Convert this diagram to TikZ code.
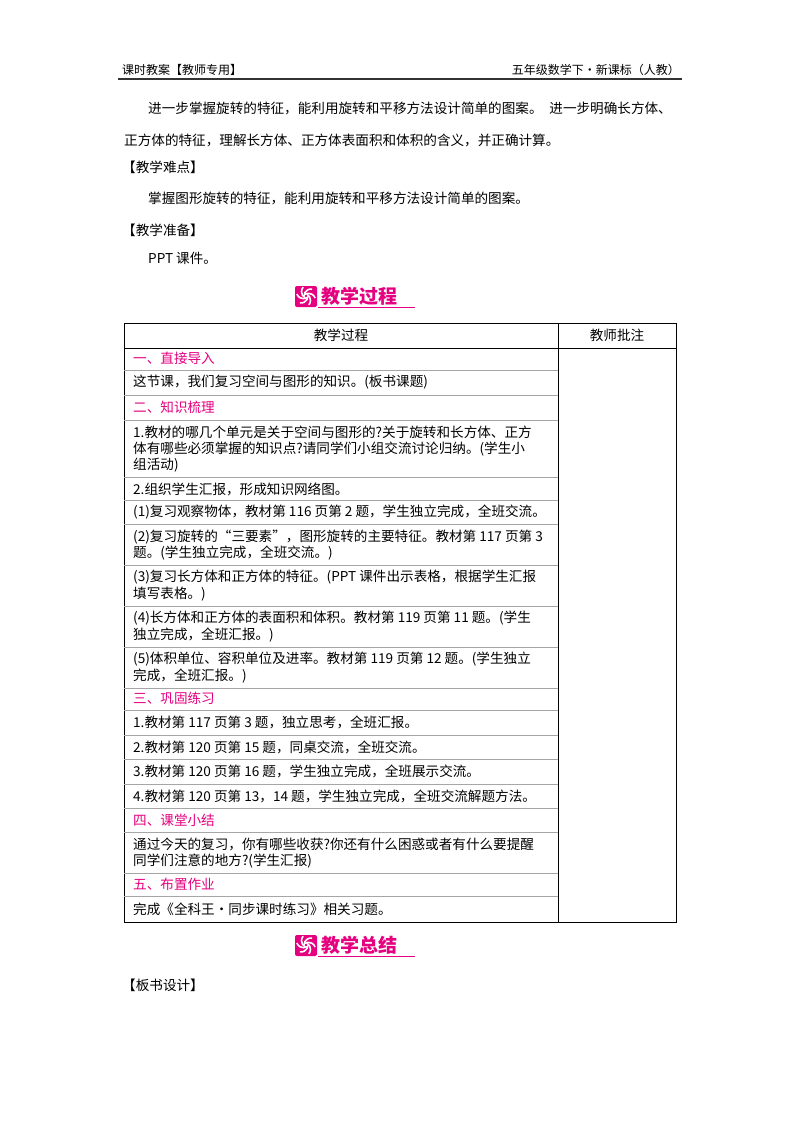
\documentclass[tikz,border=0pt]{standalone}
\usepackage{fontspec}
\usetikzlibrary{calc}
\setmainfont{Noto Sans CJK SC}
\definecolor{mag}{HTML}{E4007F}
\begin{document}
\begin{tikzpicture}[x=1pt,y=-1pt,
 t/.style={anchor=west,inner sep=0pt,font=\fontsize{13.6}{15}\selectfont},
 h/.style={t,text=mag},
 hd/.style={anchor=center,inner sep=0pt,font=\fontsize{13.6}{15}\selectfont},
 ban/.style={anchor=west,inner sep=0pt,text=mag,font=\fontsize{19}{20}\selectfont\bfseries},
 rl/.style={line width=0.5pt,gray!70}]
\useasboundingbox (0,0) rectangle (800,1132);
% header
\node[t,font=\fontsize{12}{12}\selectfont] (hl) at (122,70) {课时教案【教师专用】};
\node[anchor=east,inner sep=0pt,font=\fontsize{12}{12}\selectfont] (hr) at (680,70) {五年级数学下·新课标（人教）};
\draw[line width=1.2pt,black!80] (118,79) -- (682,79);
% intro text
\node[t] (p1) at (148,108) {进一步掌握旋转的特征，能利用旋转和平移方法设计简单的图案。\enspace 进一步明确长方体、};
\node[t] (p2) at (124,140) {正方体的特征，理解长方体、正方体表面积和体积的含义，并正确计算。};
\node[t] (p3) at (122,167) {【教学难点】};
\node[t] (p4) at (148,198) {掌握图形旋转的特征，能利用旋转和平移方法设计简单的图案。};
\node[t] (p5) at (122,230) {【教学准备】};
\node[t] (p6) at (148,258) {PPT 课件。};
% banners
\foreach \y/\txt/\n in {296/教学过程/b1,945/教学总结/b2}{
 \fill[mag,rounded corners=2pt] (295,\y-10) rectangle (317,\y+11);
 \foreach \a in {0,60,...,300}
  \draw[white,line width=1.6pt] ($(306,\y)+(\a:2)$) arc[start angle=\a,end angle=\a+100,radius=7];
 \node[ban] (\n) at (321,\y) {\txt};
 \draw[mag,line width=0.6pt] (318,\y+11) -- (415,\y+11);
}
% table
\draw[line width=0.8pt] (124,323) rectangle (676,922);
\draw[line width=0.8pt] (558,323) -- (558,922);
\draw[line width=0.6pt] (124,348) -- (676,348);
\node[hd] (th1) at (341,335) {教学过程};
\node[hd] (th2) at (617,335) {教师批注};
\foreach \y in {370,395,420,477,500,524,565,606,647,688,710,735,759,784,808,832,873,896}
 \draw[rl] (124,\y) -- (558,\y);
\node[h] at (133,358) {一、直接导入};
\node[t] at (133,382) {这节课，我们复习空间与图形的知识。(板书课题)};
\node[h] at (133,407) {二、知识梳理};
\node[t] at (133,432) {1.教材的哪几个单元是关于空间与图形的?关于旋转和长方体、正方};
\node[t] at (133,449) {体有哪些必须掌握的知识点?请同学们小组交流讨论归纳。(学生小};
\node[t] at (133,465) {组活动)};
\node[t] at (133,489) {2.组织学生汇报，形成知识网络图。};
\node[t] at (133,512) {(1)复习观察物体，教材第 116 页第 2 题，学生独立完成，全班交流。};
\node[t] at (133,537) {(2)复习旋转的“三要素”，图形旋转的主要特征。教材第 117 页第 3};
\node[t] at (133,553) {题。(学生独立完成，全班交流。)};
\node[t] at (133,577) {(3)复习长方体和正方体的特征。(PPT 课件出示表格，根据学生汇报};
\node[t] at (133,594) {填写表格。)};
\node[t] at (133,618) {(4)长方体和正方体的表面积和体积。教材第 119 页第 11 题。(学生};
\node[t] at (133,635) {独立完成，全班汇报。)};
\node[t] at (133,659) {(5)体积单位、容积单位及进率。教材第 119 页第 12 题。(学生独立};
\node[t] at (133,676) {完成，全班汇报。)};
\node[h] at (133,698) {三、巩固练习};
\node[t] at (133,722) {1.教材第 117 页第 3 题，独立思考，全班汇报。};
\node[t] at (133,747) {2.教材第 120 页第 15 题，同桌交流，全班交流。};
\node[t] at (133,771) {3.教材第 120 页第 16 题，学生独立完成，全班展示交流。};
\node[t] at (133,796) {4.教材第 120 页第 13，14 题，学生独立完成，全班交流解题方法。};
\node[h] at (133,820) {四、课堂小结};
\node[t] at (133,844) {通过今天的复习，你有哪些收获?你还有什么困惑或者有什么要提醒};
\node[t] at (133,861) {同学们注意的地方?(学生汇报)};
\node[h] at (133,884) {五、布置作业};
\node[t] at (133,909) {完成《全科王·同步课时练习》相关习题。};
\node[t] (p7) at (122,985) {【板书设计】};
\end{tikzpicture}
\end{document}
